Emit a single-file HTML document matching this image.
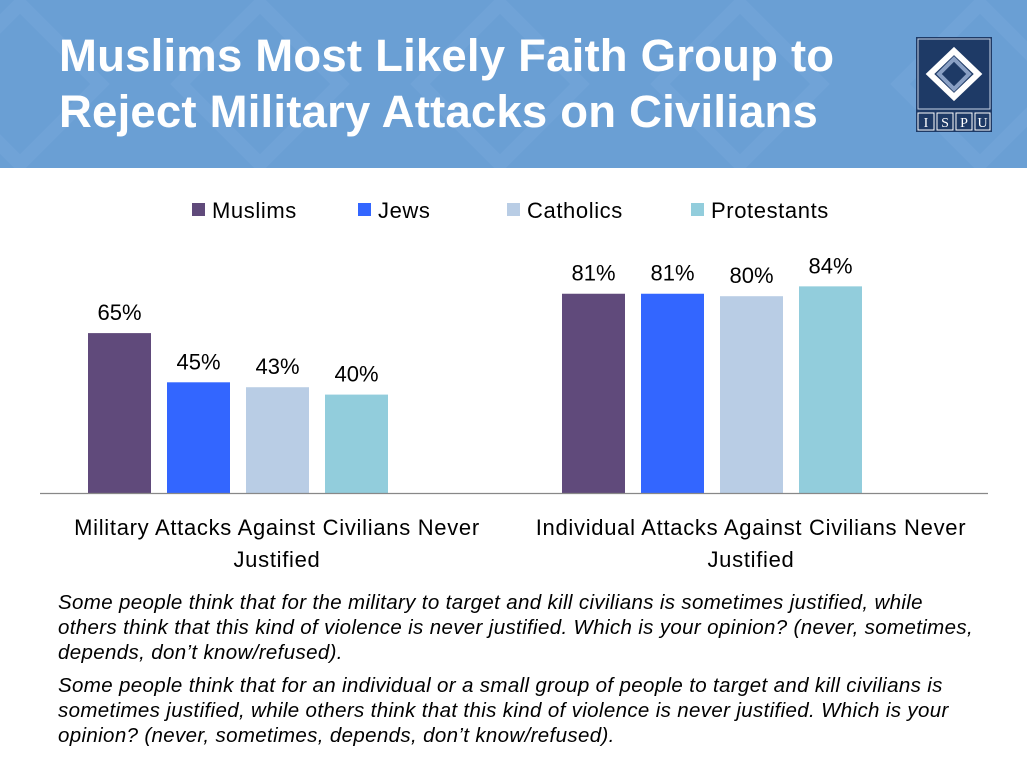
<!DOCTYPE html>
<html><head><meta charset="utf-8"><style>
body{margin:0;width:1027px;height:771px;overflow:hidden;background:#fff;font-family:"Liberation Sans",sans-serif;position:relative}
#hdr{position:absolute;left:0;top:0;width:1027px;height:168px;background:#6a9fd4;overflow:hidden}
#title{position:absolute;left:59px;top:28px;color:#fff;font-weight:bold;font-size:45.5px;letter-spacing:0.2px;line-height:56px;white-space:nowrap}
.note{position:absolute;left:58px;font-style:italic;font-size:20.5px;letter-spacing:0.35px;white-space:nowrap;color:#000}
</style></head><body>
<div id="hdr">
<svg width="1027" height="168" style="position:absolute;left:0;top:0">
<g fill="none" stroke="#78a9db" stroke-width="14" opacity="0.45">
<path d="M-60 84 L20 4 L100 84 L20 164 Z"/><path d="M180 84 L260 4 L340 84 L260 164 Z"/><path d="M420 84 L500 4 L580 84 L500 164 Z"/><path d="M660 84 L740 4 L820 84 L740 164 Z"/><path d="M900 84 L980 4 L1060 84 L980 164 Z"/>
</g></svg>
<div id="title">Muslims Most Likely Faith Group to<br>Reject Military Attacks on Civilians</div>
<svg width="76" height="95" style="position:absolute;left:916px;top:37px">
<rect x="0" y="0" width="76" height="95" fill="#1e3a66"/>
<rect x="2" y="2" width="72" height="70" fill="none" stroke="#c8d4e6" stroke-width="1"/>
<path d="M38 14 L62 37 L38 60 L14 37 Z" fill="none" stroke="#fff" stroke-width="6"/>
<path d="M38 22 L53 37 L38 52 L23 37 Z" fill="none" stroke="#8aa0c4" stroke-width="4"/>
<rect x="2" y="76" width="16" height="17" fill="none" stroke="#fff"/><rect x="21" y="76" width="16" height="17" fill="none" stroke="#fff"/><rect x="40" y="76" width="16" height="17" fill="none" stroke="#fff"/><rect x="59" y="76" width="15" height="17" fill="none" stroke="#fff"/>
<text x="10" y="90" fill="#fff" font-size="14" text-anchor="middle" font-family="Liberation Serif">I</text>
<text x="29" y="90" fill="#fff" font-size="14" text-anchor="middle" font-family="Liberation Serif">S</text>
<text x="48" y="90" fill="#fff" font-size="14" text-anchor="middle" font-family="Liberation Serif">P</text>
<text x="66.5" y="90" fill="#fff" font-size="14" text-anchor="middle" font-family="Liberation Serif">U</text>
</svg>
</div>
<svg id="chart" width="1027" height="600" style="position:absolute;left:0;top:168px"></svg>
<div class="note" style="top:591px">Some people think that for the military to target and kill civilians is sometimes justified, while</div>
<div class="note" style="top:616px">others think that this kind of violence is never justified. Which is your opinion? (never, sometimes,</div>
<div class="note" style="top:641px">depends, don’t know/refused).</div>
<div class="note" style="top:674px">Some people think that for an individual or a small group of people to target and kill civilians is</div>
<div class="note" style="top:699px">sometimes justified, while others think that this kind of violence is never justified. Which is your</div>
<div class="note" style="top:724px">opinion? (never, sometimes, depends, don’t know/refused).</div>
<script>
const categories=[["Military Attacks Against Civilians Never","Justified"],["Individual Attacks Against Civilians Never","Justified"]];
const seriesNames=["Muslims","Jews","Catholics","Protestants"];
const muslims=[65,81];
const jews=[45,81];
const catholics=[43,80];
const protestants=[40,84];
const colors=["#604a7b","#3366ff","#b9cde5","#92cddc"];
const series=[muslims,jews,catholics,protestants];
const svg=document.getElementById('chart');
const NS='http://www.w3.org/2000/svg';
const OY=168, base=493-OY, k=2.46;
const y=v=>base-v*k;
const groupStart=[88,562], step=79, bw=63;
function mk(t,a){const e=document.createElementNS(NS,t);for(const q in a)e.setAttribute(q,a[q]);svg.appendChild(e);return e;}
const lx=[192,358,507,691];
seriesNames.forEach((n,i)=>{
 const r=mk('rect',{x:lx[i],y:203-OY,width:13,height:13,fill:colors[i]});
 
 
 const t=mk('text',{x:lx[i]+20,y:218-OY,'font-size':22,'letter-spacing':0.6,fill:'#000'});
 t.textContent=n;
 
 
});
series.forEach((s,si)=>{
 s.forEach((v,gi)=>{
  const x=groupStart[gi]+si*step;
  const r=mk('rect',{x:x,y:y(v),width:bw,height:base-y(v),fill:colors[si]});
  
  
  const t=mk('text',{x:x+bw/2,y:y(v)-13,'font-size':22,'text-anchor':'middle',fill:'#000'});
  t.textContent=v+'%';
  
  
 });
});
const ax=mk('line',{x1:40,x2:988,y1:base+0.5,y2:base+0.5,stroke:'#888','stroke-width':1.3});


const cx=[277,751];
categories.forEach((c,i)=>{
 c.forEach((ln,j)=>{
  const t=mk('text',{x:cx[i],y:535-OY+j*32,'font-size':22,'letter-spacing':0.7,'text-anchor':'middle',fill:'#000'});
  t.textContent=ln;
  
  
 });
});
</script>
</body></html>
